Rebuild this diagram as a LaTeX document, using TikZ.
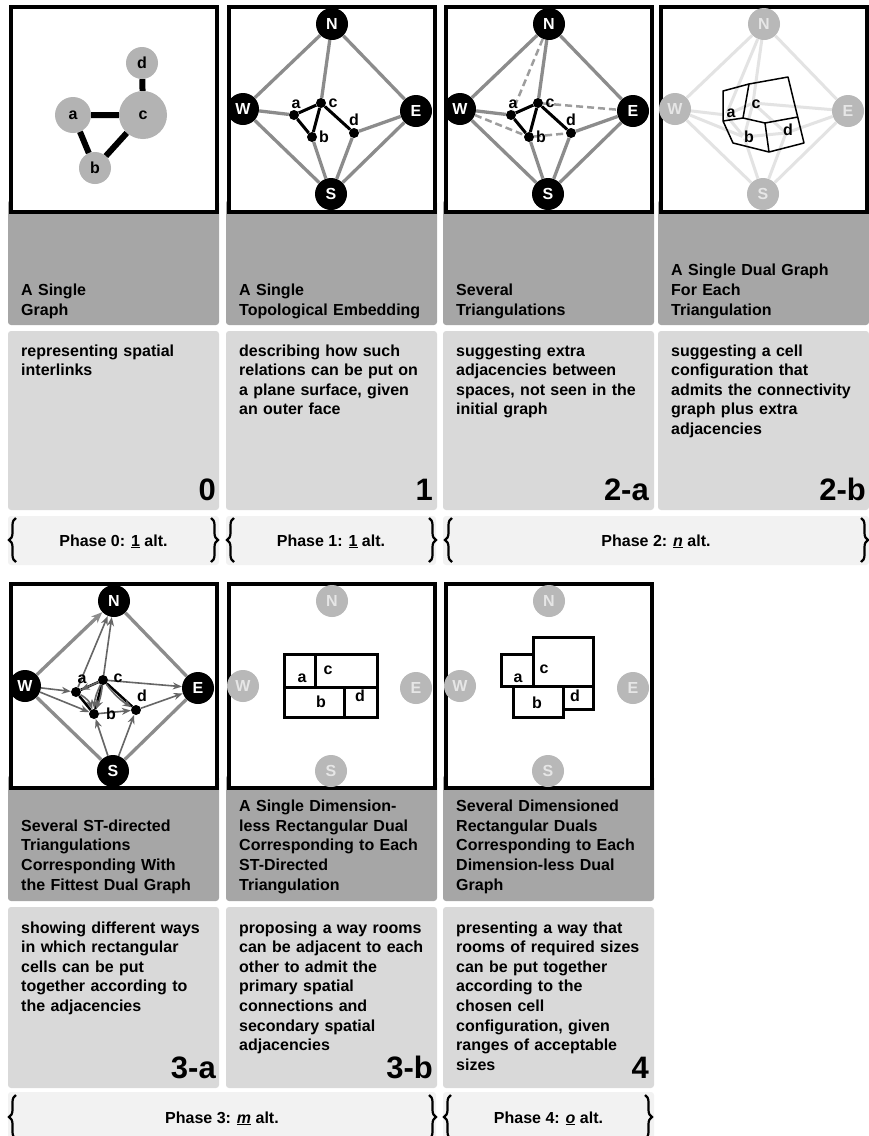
\documentclass[tikz,border=0pt]{standalone}
\usepackage{fontspec}
\setmainfont{Liberation Sans}
\usetikzlibrary{arrows.meta,decorations.pathreplacing}

\definecolor{hdrgray}{HTML}{A6A6A6}
\definecolor{descgray}{HTML}{D9D9D9}
\definecolor{phasegray}{HTML}{F2F2F2}
\definecolor{blobgray}{HTML}{B3B3B3}
\definecolor{edgegray}{HTML}{8C8C8C}
\definecolor{arrgray}{HTML}{666666}
\definecolor{palegray}{HTML}{B8B8B8}
\definecolor{paleletter}{HTML}{E6E6E6}
\definecolor{paleline}{HTML}{E3E3E3}

% poles and rooms sit at the same spot in every panel
\newcommand{\placepoles}[2]{%
  \node[#2] (N#1) at (106,24) {N};
  \node[#2] (W#1) at (17,109) {W};
  \node[#2] (E#1) at (190,111) {E};
  \node[#2] (S#1) at (105,194) {S};}
\newcommand{\placerooms}[2]{%
  \node[#2] (a#1) at (68,115) {};
  \node[#2] (c#1) at (95,103) {};
  \node[#2] (b#1) at (86,137) {};
  \node[#2] (d#1) at (128,133) {};}
\newcommand{\roomlabels}[1]{%
  \node[lbl] (la#1) at (70,104) {a};
  \node[lbl] (lc#1) at (107,103) {c};
  \node[lbl] (lb#1) at (98,137) {b};
  \node[lbl] (ld#1) at (128,120) {d};}

\begin{document}
\begin{tikzpicture}[x=1pt,y=-1pt,
  panel/.style={draw=black,line width=4pt,fill=white},
  hdrbox/.style={fill=hdrgray,rounded corners=3pt},
  descbox/.style={fill=descgray,rounded corners=3pt},
  phasebox/.style={fill=phasegray,rounded corners=3pt},
  boxtext/.style={anchor=base west,inner sep=0pt,text width=200pt,align=left,
    font=\fontsize{16}{19.6}\selectfont\bfseries},
  numtext/.style={anchor=base east,inner sep=0pt,font=\fontsize{31}{31}\selectfont\bfseries},
  phasetext/.style={anchor=base,inner sep=0pt,font=\fontsize{16}{19}\selectfont\bfseries},
  curly/.style={decorate,decoration={brace,amplitude=7pt},line width=2.2pt},
  blob/.style={circle,fill=blobgray,inner sep=0pt,font=\fontsize{16}{16}\selectfont\bfseries},
  pole/.style={circle,fill=black,text=white,minimum size=32pt,inner sep=0pt,
    font=\fontsize{16}{16}\selectfont\bfseries},
  palepole/.style={pole,fill=palegray,text=paleletter},
  room/.style={circle,fill=black,minimum size=10pt,inner sep=0pt},
  ghost/.style={circle,minimum size=3pt,inner sep=0pt},
  lbl/.style={inner sep=0pt,font=\fontsize{16}{16}\selectfont\bfseries},
  rimedge/.style={draw=edgegray,line width=3.3pt},
  graphedge/.style={draw=black,line width=3pt},
  extraedge/.style={draw=edgegray!85,line width=2.5pt,dash pattern=on 7pt off 4pt},
  paleedge/.style={draw=paleline,line width=3pt},
  stedge/.style={color=arrgray,line width=1.6pt,-{Stealth[length=9pt,width=7pt]}},
  dualline/.style={draw=black,line width=1.5pt,line join=round},
  roomline/.style={draw=black,line width=3pt},
  ]
\useasboundingbox (0,0) rectangle (869,1136);
\clip (0,0) rectangle (869,1136);

% boxes, first row
\foreach \x in {8,226,443,658} {
  \fill[hdrbox] (\x,200) rectangle +(211,125);
  \draw[panel] (\x+3,7) rectangle (\x+209,212);
  \fill[descbox] (\x,331) rectangle +(211,179);
}
\fill[phasebox] (8,516) rectangle (219,565);
\fill[phasebox] (226,516) rectangle (436,565);
\fill[phasebox] (443,516) rectangle (869,565);

% boxes, second row
\foreach \x in {8,226,443} {
  \fill[hdrbox] (\x,775) rectangle +(211,126);
  \draw[panel] (\x+3,584) rectangle (\x+209,788);
  \fill[descbox] (\x,907) rectangle +(211,181);
}
\fill[phasebox] (8,1092) rectangle (436,1150);
\fill[phasebox] (443,1092) rectangle (654,1150);

% headers
\node[boxtext] (h0) at (21,295.4) {A Single\\Graph};
\node[boxtext] (h1) at (239,295.4) {A Single\\Topological Embedding};
\node[boxtext] (h2a) at (456,295.4) {Several\\Triangulations};
\node[boxtext] (h2b) at (671,275.8) {A Single Dual Graph\\For Each\\Triangulation};
\node[boxtext] (h3a) at (21,831.2) {Several ST-directed\\Triangulations\\Corresponding With\\the Fittest Dual Graph};
\node[boxtext] (h3b) at (239,811.6) {A Single Dimension-\\less Rectangular Dual\\Corresponding to Each\\ST-Directed\\Triangulation};
\node[boxtext] (h4) at (456,811.6) {Several Dimensioned\\Rectangular Duals\\Corresponding to Each\\Dimension-less Dual\\Graph};

% descriptions
\node[boxtext] (t0) at (21,356) {representing spatial\\interlinks};
\node[boxtext] (t1) at (239,356) {describing how such\\relations can be put on\\a plane surface, given\\an outer face};
\node[boxtext] (t2a) at (456,356) {suggesting extra\\adjacencies between\\spaces, not seen in the\\initial graph};
\node[boxtext] (t2b) at (671,356) {suggesting a cell\\configuration that\\admits the connectivity\\graph plus extra\\adjacencies};
\node[boxtext] (t3a) at (21,933) {showing different ways\\in which rectangular\\cells can be put\\together according to\\the adjacencies};
\node[boxtext] (t3b) at (239,933) {proposing a way rooms\\can be adjacent to each\\other to admit the\\primary spatial\\connections and\\secondary spatial\\adjacencies};
\node[boxtext] (t4) at (456,933) {presenting a way that\\rooms of required sizes\\can be put together\\according to the\\chosen cell\\configuration, given\\ranges of acceptable\\sizes};

% step numbers
\node[numtext] (n0) at (216,500) {0};
\node[numtext] (n1) at (433,500) {1};
\node[numtext] (n2a) at (649,500) {2-a};
\node[numtext] (n2b) at (866,500) {2-b};
\node[numtext] (n3a) at (216,1078) {3-a};
\node[numtext] (n3b) at (433,1078) {3-b};
\node[numtext] (n4) at (649,1078) {4};

% phases
\node[phasetext] (ph0) at (113.5,546) {Phase 0: \underline{1} alt.};
\node[phasetext] (ph1) at (331,546) {Phase 1: \underline{1} alt.};
\node[phasetext] (ph2) at (656,546) {Phase 2: \underline{\itshape n} alt.};
\node[phasetext] (ph3) at (222,1123) {Phase 3: \underline{\itshape m} alt.};
\node[phasetext] (ph4) at (548.5,1123) {Phase 4: \underline{\itshape o} alt.};
\draw[curly] (16,562) -- (16,518);   \draw[curly] (211,518) -- (211,562);
\draw[curly] (234,562) -- (234,518); \draw[curly] (429,518) -- (429,562);
\draw[curly] (452,562) -- (452,518); \draw[curly] (861,518) -- (861,562);
\draw[curly] (16,1139) -- (16,1095); \draw[curly] (429,1095) -- (429,1139);
\draw[curly] (451,1139) -- (451,1095); \draw[curly] (645,1095) -- (645,1139);

% 0: the graph
\begin{scope}[shift={(8,0)}]
\node[blob,minimum size=36pt] (a0) at (65,115) {a};
\node[blob,minimum size=48pt] (c0) at (135,115) {c};
\node[blob,minimum size=32pt] (d0) at (134,63) {d};
\node[blob,minimum size=32pt] (b0) at (87,168) {b};
\draw[line width=6pt] (a0) -- (c0) (a0) -- (b0) (b0) -- (c0) (c0) -- (d0);
\end{scope}

% 1: embedding
\begin{scope}[shift={(226,0)}]
\placepoles{1}{pole}
\placerooms{1}{room}
\draw[rimedge] (N1) -- (W1) (W1) -- (S1) (S1) -- (E1) (E1) -- (N1);
\draw[rimedge] (N1) -- (c1) (W1) -- (a1) (S1) -- (b1) (S1) -- (d1) (E1) -- (d1);
\draw[graphedge] (a1) -- (c1) (c1) -- (b1) (b1) -- (a1) (c1) -- (d1);
\roomlabels{1}
\end{scope}

% 2-a: triangulation
\begin{scope}[shift={(443,0)}]
\placepoles{2}{pole}
\placerooms{2}{room}
\draw[rimedge] (N2) -- (W2) (W2) -- (S2) (S2) -- (E2) (E2) -- (N2);
\draw[rimedge] (N2) -- (c2) (W2) -- (a2) (S2) -- (b2) (S2) -- (d2) (E2) -- (d2);
\draw[extraedge] (N2) -- (a2) (W2) -- (b2) (c2) -- (E2) (b2) -- (d2);
\draw[graphedge] (a2) -- (c2) (c2) -- (b2) (b2) -- (a2) (c2) -- (d2);
\roomlabels{2}
\end{scope}

% 2-b: dual graph over the faded triangulation
\begin{scope}[shift={(658,0)}]
\placepoles{3}{palepole}
\placerooms{3}{ghost}
\draw[paleedge] (N3) -- (W3) (W3) -- (S3) (S3) -- (E3) (E3) -- (N3);
\draw[paleedge] (N3) -- (c3) (W3) -- (a3) (S3) -- (b3) (S3) -- (d3) (E3) -- (d3);
\draw[paleedge] (N3) -- (a3) (W3) -- (b3) (c3) -- (E3) (b3) -- (d3);
\draw[paleedge] (a3) -- (c3) (c3) -- (b3) (b3) -- (a3) (c3) -- (d3);
\coordinate (p1) at (65,91);
\coordinate (p2) at (91,84);
\coordinate (p3) at (130,77);
\coordinate (p4) at (146,143);
\coordinate (p5) at (111,152);
\coordinate (p6) at (75,143);
\coordinate (p7) at (65,121);
\coordinate (q1) at (85,118);
\coordinate (q2) at (107,123);
\coordinate (q3) at (140,117);
\draw[dualline] (p1) -- (p2) -- (p3) -- (p4) -- (p5) -- (p6) -- (p7) -- cycle;
\draw[dualline] (p2) -- (q1) -- (p7) (q1) -- (q2) -- (q3) (q2) -- (p5);
\node[lbl] (la3) at (73,113) {a};
\node[lbl] (lc3) at (98,104) {c};
\node[lbl] (lb3) at (91,137) {b};
\node[lbl] (ld3) at (130,130) {d};
\end{scope}

% 3-a: st-directed triangulation
\begin{scope}[shift={(8,577)}]
\placepoles{4}{pole}
\placerooms{4}{room}
\draw[rimedge,-{Stealth[length=11pt,width=9pt]}] (W4) -- (N4);
\draw[rimedge] (N4) -- (E4) (W4) -- (S4) (S4) -- (E4);
\draw[graphedge,line width=2.5pt] (a4) -- (c4) (c4) -- (b4) (b4) -- (a4) (c4) -- (d4);
\draw[stedge] (a4) edge (N4) (c4) edge (N4) (c4) edge (E4) (d4) edge (E4)
  (W4) edge (a4) (W4) edge (b4) (S4) edge (b4) (S4) edge (d4) (b4) edge (d4)
  (c4) edge (a4) (a4) edge[bend left=20] (b4) (c4) edge[bend right=12] (b4)
  (c4) edge[bend left=8] (b4) (c4) edge[bend right=10] (d4);
\node[lbl] (la4) at (74,102) {a};
\node[lbl] (lc4) at (110,101) {c};
\node[lbl] (lb4) at (103,137) {b};
\node[lbl] (ld4) at (134,119) {d};
\end{scope}

% 3-b: rectangular dual
\begin{scope}[shift={(226,577)}]
\placepoles{5}{palepole}
\draw[roomline] (58,77) rectangle (151,140);
\draw[roomline] (58,110) -- (151,110);
\draw[roomline] (89,77) -- (89,110);
\draw[roomline] (118,110) -- (118,140);
\node[lbl] (la5) at (76,101) {a};
\node[lbl] (lc5) at (102,93) {c};
\node[lbl] (lb5) at (95,125) {b};
\node[lbl] (ld5) at (134,119) {d};
\end{scope}

% 4: dimensioned dual
\begin{scope}[shift={(443,577)}]
\placepoles{6}{palepole}
\draw[roomline] (58,77) rectangle (90,109);
\draw[roomline] (90,60) rectangle (150,109);
\draw[roomline] (70,109) rectangle (120,140);
\draw[roomline] (120,109) rectangle (150,132);
\node[lbl] (la6) at (75,101) {a};
\node[lbl] (lc6) at (101,92) {c};
\node[lbl] (lb6) at (94,126) {b};
\node[lbl] (ld6) at (132,119) {d};
\end{scope}
\end{tikzpicture}
\end{document}
